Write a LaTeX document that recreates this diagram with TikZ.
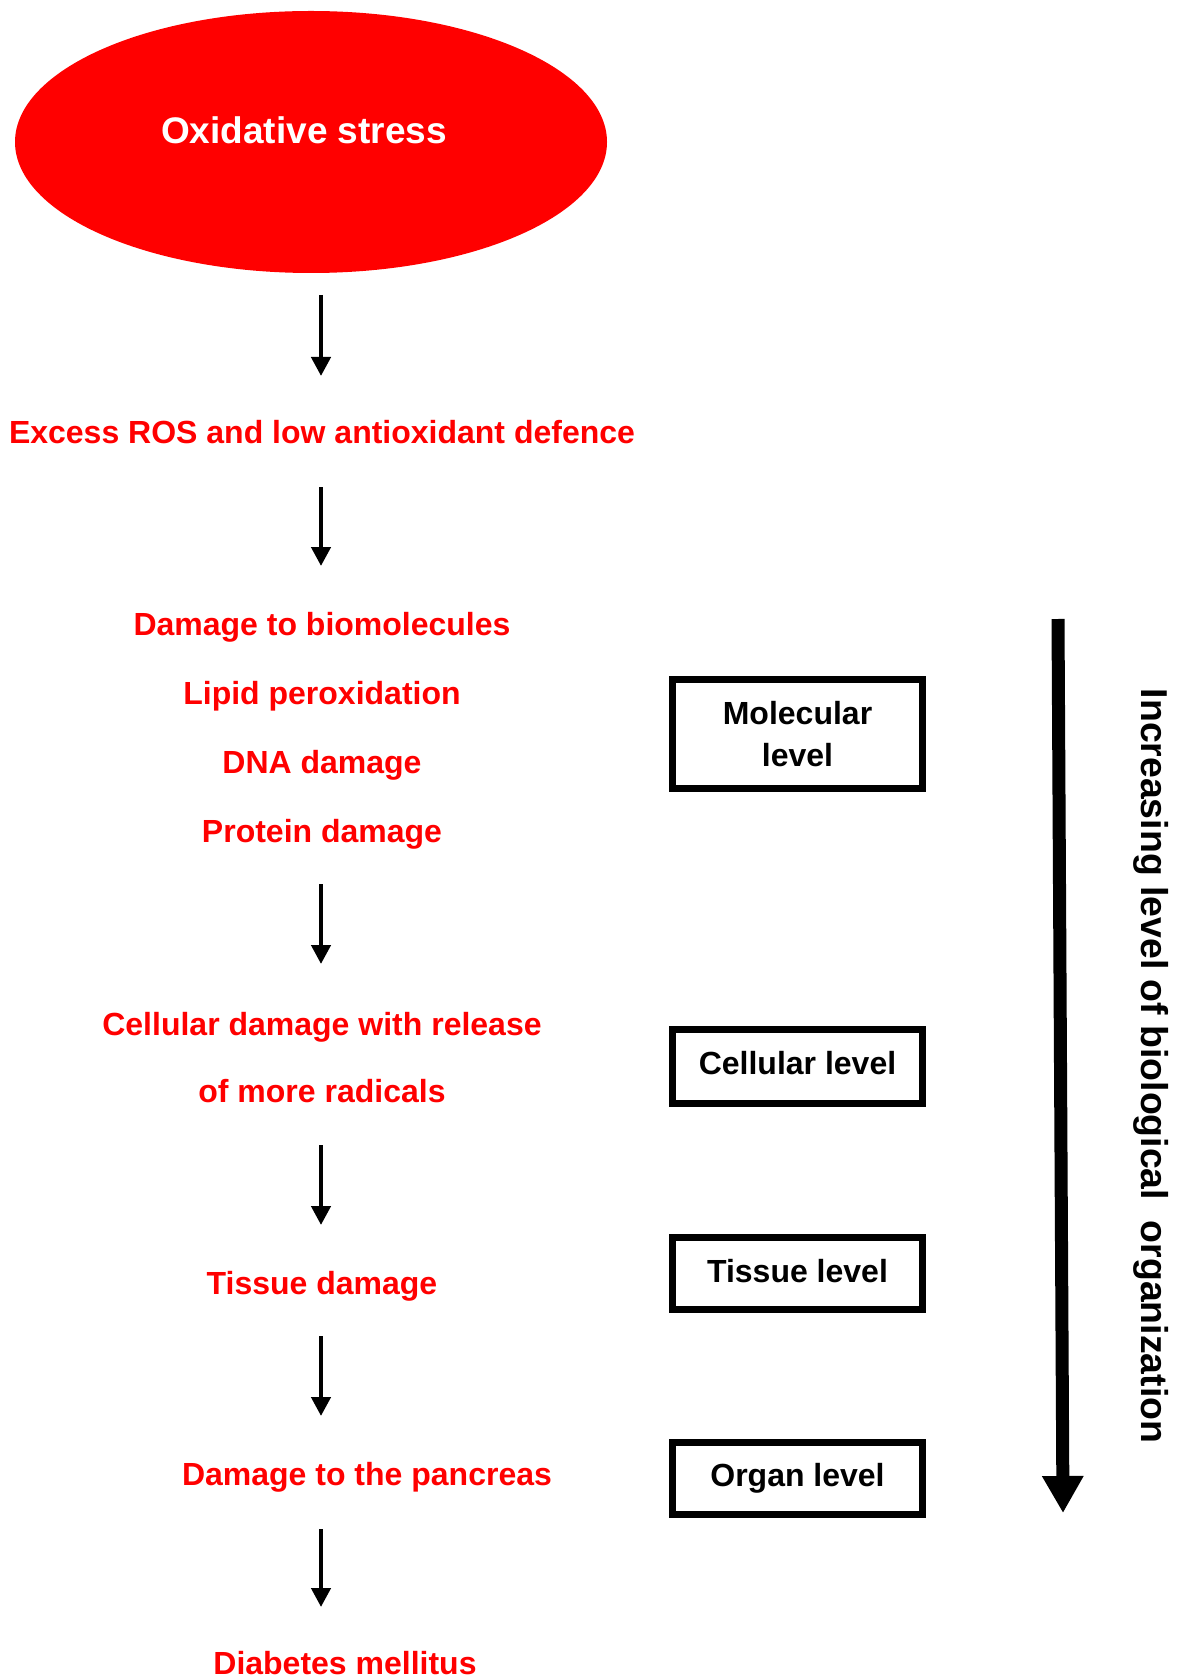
\documentclass[tikz,border=0pt]{standalone}
\usepackage{fontspec}
\setmainfont{Liberation Sans}
\usetikzlibrary{arrows.meta}
\definecolor{pured}{RGB}{255,0,0}
\tikzset{
  redtxt/.style={text=pured, font=\fontsize{16pt}{19pt}\selectfont\bfseries, anchor=base, inner sep=0pt},
  boxtxt/.style={text=black, font=\fontsize{16pt}{19pt}\selectfont\bfseries, anchor=base, inner sep=0pt},
  lvlbox/.style={draw=black, line width=3.4pt},
  flowarrow/.style={draw=black, line width=2.2pt, -{Triangle[width=9.5pt,length=9.5pt]}},
}
\begin{document}
\begin{tikzpicture}[x=0.5pt,y=-0.5pt]
\useasboundingbox[fill=white] (0,0) rectangle (1184,1679);
% ellipse
\fill[pured] (311,142) ellipse [x radius=296, y radius=131];
\node[anchor=base, inner sep=0pt, text=white, font=\fontsize{18.5pt}{22pt}\selectfont\bfseries] (ox) at (304,143.6) {Oxidative stress};
% red texts
\node[redtxt] (ros) at (322,444) {Excess ROS and low antioxidant defence};
\node[redtxt] (bio) at (322,635.5) {Damage to biomolecules};
\node[redtxt] (lip) at (322,704) {Lipid peroxidation};
\node[redtxt] (dna) at (322,773.5) {DNA damage};
\node[redtxt] (pro) at (322,842) {Protein damage};
\node[redtxt] (cel1) at (322,1035) {Cellular damage with release};
\node[redtxt] (cel2) at (322,1102) {of more radicals};
\node[redtxt] (tis) at (322,1294) {Tissue damage};
\node[redtxt] (pan) at (367,1485.5) {Damage to the pancreas};
\node[redtxt] (dia) at (345,1674) {Diabetes mellitus};
% arrow end coordinates
\coordinate (a1s) at (321,295); \coordinate (a1e) at (321,376);
\coordinate (a2s) at (321,487); \coordinate (a2e) at (321,566);
\coordinate (a3s) at (321,884); \coordinate (a3e) at (321,964);
\coordinate (a4s) at (321,1145); \coordinate (a4e) at (321,1225);
\coordinate (a5s) at (321,1336); \coordinate (a5e) at (321,1416);
\coordinate (a6s) at (321,1529); \coordinate (a6e) at (321,1607);
\draw[flowarrow] (a1s) -- (a1e);
\draw[flowarrow] (a2s) -- (a2e);
\draw[flowarrow] (a3s) -- (a3e);
\draw[flowarrow] (a4s) -- (a4e);
\draw[flowarrow] (a5s) -- (a5e);
\draw[flowarrow] (a6s) -- (a6e);
% level boxes
\draw[lvlbox] (672.5,679.5) rectangle (922.5,788.5);
\node[boxtxt] (mol1) at (797.5,724.5) {Molecular};
\node[boxtxt] (mol2) at (797.5,766) {level};
\draw[lvlbox] (672.5,1029.5) rectangle (922.5,1103.5);
\node[boxtxt] (cell) at (797.5,1074.5) {Cellular level};
\draw[lvlbox] (672.5,1237.5) rectangle (922.5,1309.5);
\node[boxtxt] (tisl) at (797.5,1282) {Tissue level};
\draw[lvlbox] (672.5,1442.5) rectangle (922.5,1514.5);
\node[boxtxt] (org) at (797.5,1486.5) {Organ level};
% big arrow
\coordinate (bigs) at (1058,619);
\coordinate (bige) at (1063,1513);
\draw[line width=6.5pt, -{Triangle[width=19.5pt,length=18.5pt]}] (bigs) -- (bige);
\node[rotate=-90, inner sep=0pt, font=\fontsize{18.7pt}{22pt}\selectfont\bfseries] (vert) at (1151,1066) {Increasing level of biological \ organization};
\end{tikzpicture}
\end{document}
